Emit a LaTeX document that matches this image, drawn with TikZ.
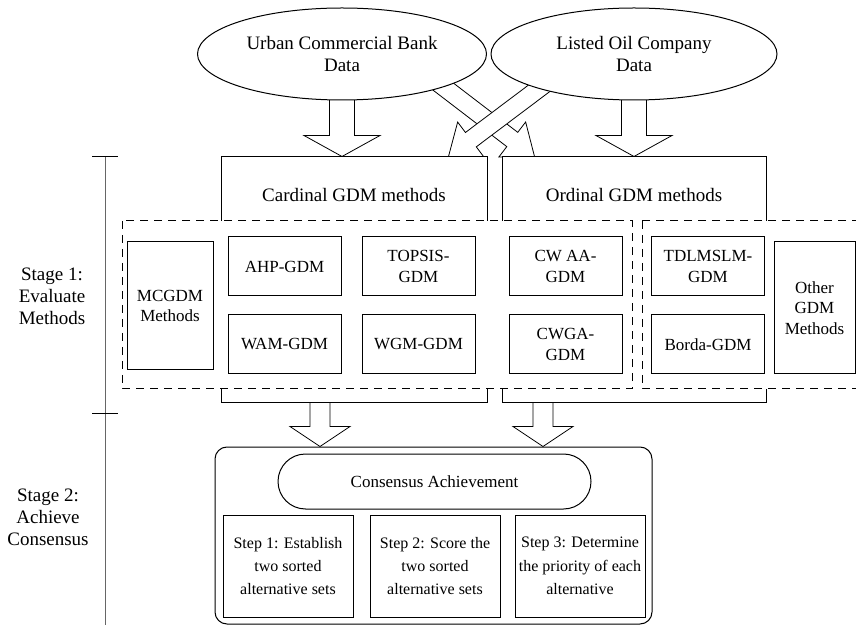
\documentclass[tikz,border=0pt]{standalone}
\usepackage{fontspec}
\setmainfont{Liberation Serif}
\usetikzlibrary{calc}
\usetikzlibrary{positioning}
\usetikzlibrary{shapes.geometric}
\usetikzlibrary{shapes.misc}

\pgfdeclarelayer{bg}
\pgfsetlayers{bg,main}

% hollow block arrow: half shaft, half head, head length, from, to
\newcommand{\blockarrow}[5]{%
  \draw [fill=white, line join=miter] ($(#4)!#1!90:(#5)$)
  -- ($(#5)!#3!(#4)!#1!-90:(#4)$)
  -- ($(#5)!#3!(#4)!#2!-90:(#4)$)
  -- (#5)
  -- ($(#5)!#3!(#4)!#2!90:(#4)$)
  -- ($(#5)!#3!(#4)!#1!90:(#4)$)
  -- ($(#4)!#1!-90:(#5)$) -- cycle;}

\begin{document}
\begin{tikzpicture}[x=0.5pt, y=-0.5pt, line width=0.5pt,
    font=\fontsize{9.5}{11}\selectfont,
    box/.style={draw, fill=white, align=center, inner sep=1pt},
    method/.style={box, minimum width=56.5pt, minimum height=29.5pt,
      font=\fontsize{8.5}{10.2}\selectfont},
    group/.style={draw, dash pattern=on 4pt off 3pt, fill=white},
    data/.style={ellipse, draw, fill=white, align=center,
      minimum width=143pt, minimum height=46pt},
    stepbox/.style={box, minimum width=65pt, minimum height=51pt,
      font=\fontsize{8}{11.7}\selectfont}]

    \useasboundingbox (0,0) rectangle (856,625);
    \clip (0,0) rectangle (856,625);

    % data sources
    \node [data] (bank) at (342,54) {Urban Commercial Bank\\Data};
    \node [data] (oil) at (634,54) {Listed Oil Company\\Data};

    % the two method families
    \node [box, minimum width=133pt, minimum height=122.5pt] (card) at (354,279.5) {};
    \node [box, minimum width=132pt, minimum height=122.5pt] (ordi) at (634,279.5) {};
    \node (cardtxt) at (354,195) {Cardinal GDM methods};
    \node (orditxt) at (634,195) {Ordinal GDM methods};

    \draw [group] (122,221) rectangle (632,389);
    \draw [group] (642,221) rectangle (870,389);

    \node [box, minimum width=43pt, minimum height=64pt,
      font=\fontsize{8.5}{10}\selectfont] (mcgdm) at (170,306) {MCGDM\\Methods};
    \node [method] (ahp) at (284.5,266.5) {AHP-GDM};
    \node [method, right=10pt of ahp] (topsis) {TOPSIS-\\GDM};
    \node [method, below=9pt of ahp] (wam) {WAM-GDM};
    \node [method, below=9pt of topsis] (wgm) {WGM-GDM};
    \node [method] (cwaa) at (565.5,266.5) {CW AA-\\GDM};
    \node [method, below=9pt of cwaa] (cwga) {CWGA-\\GDM};
    \node [method] (tdl) at (708,266.5) {TDLMSLM-\\GDM};
    \node [method, below=9pt of tdl] (borda) {Borda-GDM};
    \node [box, minimum width=40.5pt, minimum height=66pt,
      font=\fontsize{8.5}{10.2}\selectfont] (other) at (814.5,308) {Other\\GDM\\Methods};

    % consensus stage
    \node [box, rounded corners=6pt, minimum width=218.5pt,
      minimum height=88.5pt] (cons) at (433.5,535.5) {};
    \node [box, rounded rectangle, minimum width=158.5pt, minimum height=27.5pt,
      font=\fontsize{8.5}{10}\selectfont] (ach) at (434.5,481.5) {Consensus Achievement};
    \node [stepbox] (s1) at (288,566) {Step 1: Establish\\two sorted\\alternative sets};
    \node [stepbox, right=8pt of s1] (s2) {Step 2: Score the\\two sorted\\alternative sets};
    \node [stepbox, right=7pt of s2] (s3) {Step 3: Determine\\the priority of each\\alternative};

    % stage axis
    \draw [black!60] (105,157) -- (105,630);
    \draw (92,157) -- (118,157);
    \draw (92,413) -- (118,413);
    \node [align=center] (st1) at (52,296) {Stage 1:\\Evaluate\\Methods};
    \node [align=center] (st2) at (48,517) {Stage 2:\\Achieve\\Consensus};

    % block arrows
    \coordinate (ta) at (bank.south |- card.north);
    \coordinate (tb) at (oil.south |- ordi.north);
    \coordinate (xa) at ($(ordi.north west)+(33,0)$);
    \coordinate (xb) at ($(card.north east)+(-39,0)$);
    \coordinate (xa0) at ($(xa)!1.3!(bank.-18)$);
    \coordinate (xb0) at ($(xb)!1.3!(oil.200)$);
    \coordinate (ba0) at ($(card.south)+(-34,0)$);
    \coordinate (ba) at (ba0 |- cons.north);
    \coordinate (bb0) at ($(ordi.south)+(-91,0)$);
    \coordinate (bb) at (bb0 |- cons.north);

    \begin{pgfonlayer}{bg}
      \blockarrow{6.25pt}{19pt}{10.5pt}{bank.center}{ta}
      \blockarrow{6.25pt}{19pt}{10.5pt}{oil.center}{tb}
      \blockarrow{4.5pt}{11pt}{14pt}{xa0}{xa}
      \blockarrow{4.5pt}{11pt}{14pt}{xb0}{xb}
      \blockarrow{5pt}{15pt}{10pt}{ba0}{ba}
      \blockarrow{5pt}{15pt}{10pt}{bb0}{bb}
    \end{pgfonlayer}

  \end{tikzpicture}
\end{document}
